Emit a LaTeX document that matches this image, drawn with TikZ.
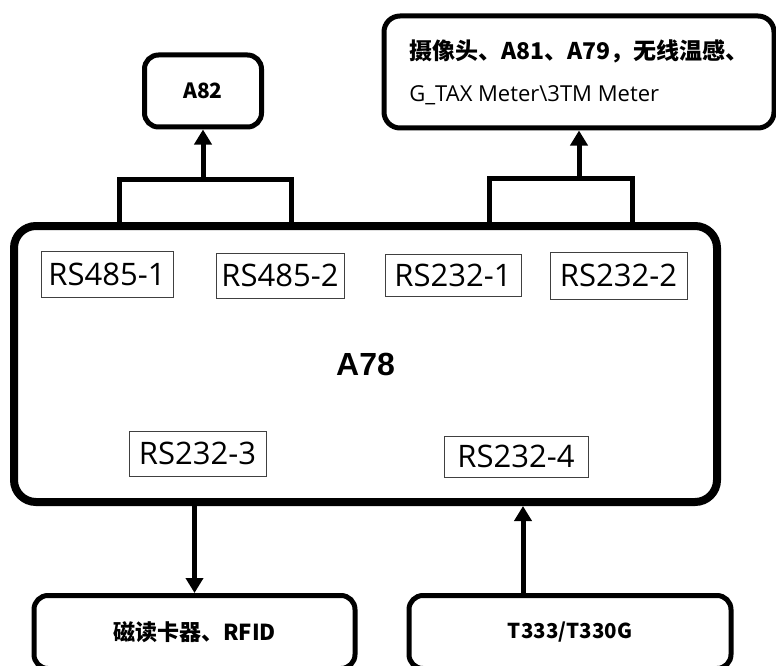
\documentclass[tikz,border=0pt]{standalone}
\usepackage{fontspec}
\setmainfont{Open Sans}
\newfontfamily\cjk{Noto Sans CJK SC}
\newfontfamily\arialb{Liberation Sans}
\usetikzlibrary{arrows.meta,positioning}

\begin{document}
\begin{tikzpicture}[x=1pt,y=-1pt,
        box/.style={draw,line width=5pt,rounded corners=14pt,inner sep=0pt},
        port/.style={draw=black!75,line width=1pt,inner sep=0pt,minimum height=45pt,font=\fontsize{31}{36}\selectfont},
        wire/.style={line width=5pt},
        feed/.style={wire,-{Triangle[length=15pt,width=17pt]}}]
        \useasboundingbox (0,0) rectangle (776,666);
        % main unit
        \node[draw,line width=8pt,rounded corners=22pt,minimum width=703pt,minimum height=276pt,
              font=\arialb\bfseries\fontsize{32}{36}\selectfont] (a78) at (365.5,364) {A78};
        % ports
        \node[port,minimum width=132pt,minimum height=46pt] (rs485a) at (107,274) {RS485-1};
        \node[port,minimum width=128pt] (rs485b) at (280,275.5) {RS485-2};
        \node[port,minimum width=136pt,minimum height=42pt] (rs232a) at (453,275) {RS232-1};
        \node[port,minimum width=137pt,minimum height=47pt] (rs232b) at (618.5,275.5) {RS232-2};
        \node[port,minimum width=137pt] (rs232c) at (197.5,453.5) {RS232-3};
        \node[port,minimum width=144pt,minimum height=41pt] (rs232d) at (516,456.5) {RS232-4};
        % devices
        \node[box,minimum width=117pt,minimum height=72pt,font=\cjk\bfseries\fontsize{21}{24}\selectfont] (a82) at (203,91) {A82};
        \node[box,rounded corners=16pt,minimum width=390pt,minimum height=112pt,align=left,
              font=\fontsize{23}{42}\selectfont] (cams) at (579,72)
              {{\cjk\bfseries 摄像头、A81、A79，无线温感、}\\{\fontsize{22}{42}\selectfont G\_TAX Meter\textbackslash 3TM Meter}};
        \node[box,minimum width=321pt,minimum height=73pt,font=\cjk\bfseries\fontsize{22}{26}\selectfont] (rfid) at (194.5,632) {磁读卡器、RFID};
        \node[box,minimum width=322pt,minimum height=73pt,font=\cjk\bfseries\fontsize{20.5}{24}\selectfont] (tax) at (570,632) {T333/T330G};
        % links
        \coordinate (hubL) at (203,179);
        \coordinate (hubR) at (579,178);
        \draw[wire] (119,226) |- (hubL) -| (291,226);
        \draw[feed] (hubL) -- (a82);
        \draw[wire] (489,226) |- (hubR) -| (632,226);
        \draw[feed] (hubR) -- (cams);
        \draw[feed] (a78.south -| rfid) -- (rfid);
        \draw[feed] ([xshift=-47pt]tax.north) -- ([xshift=-47pt]tax.north |- a78.south);
        \end{tikzpicture}
\end{document}
